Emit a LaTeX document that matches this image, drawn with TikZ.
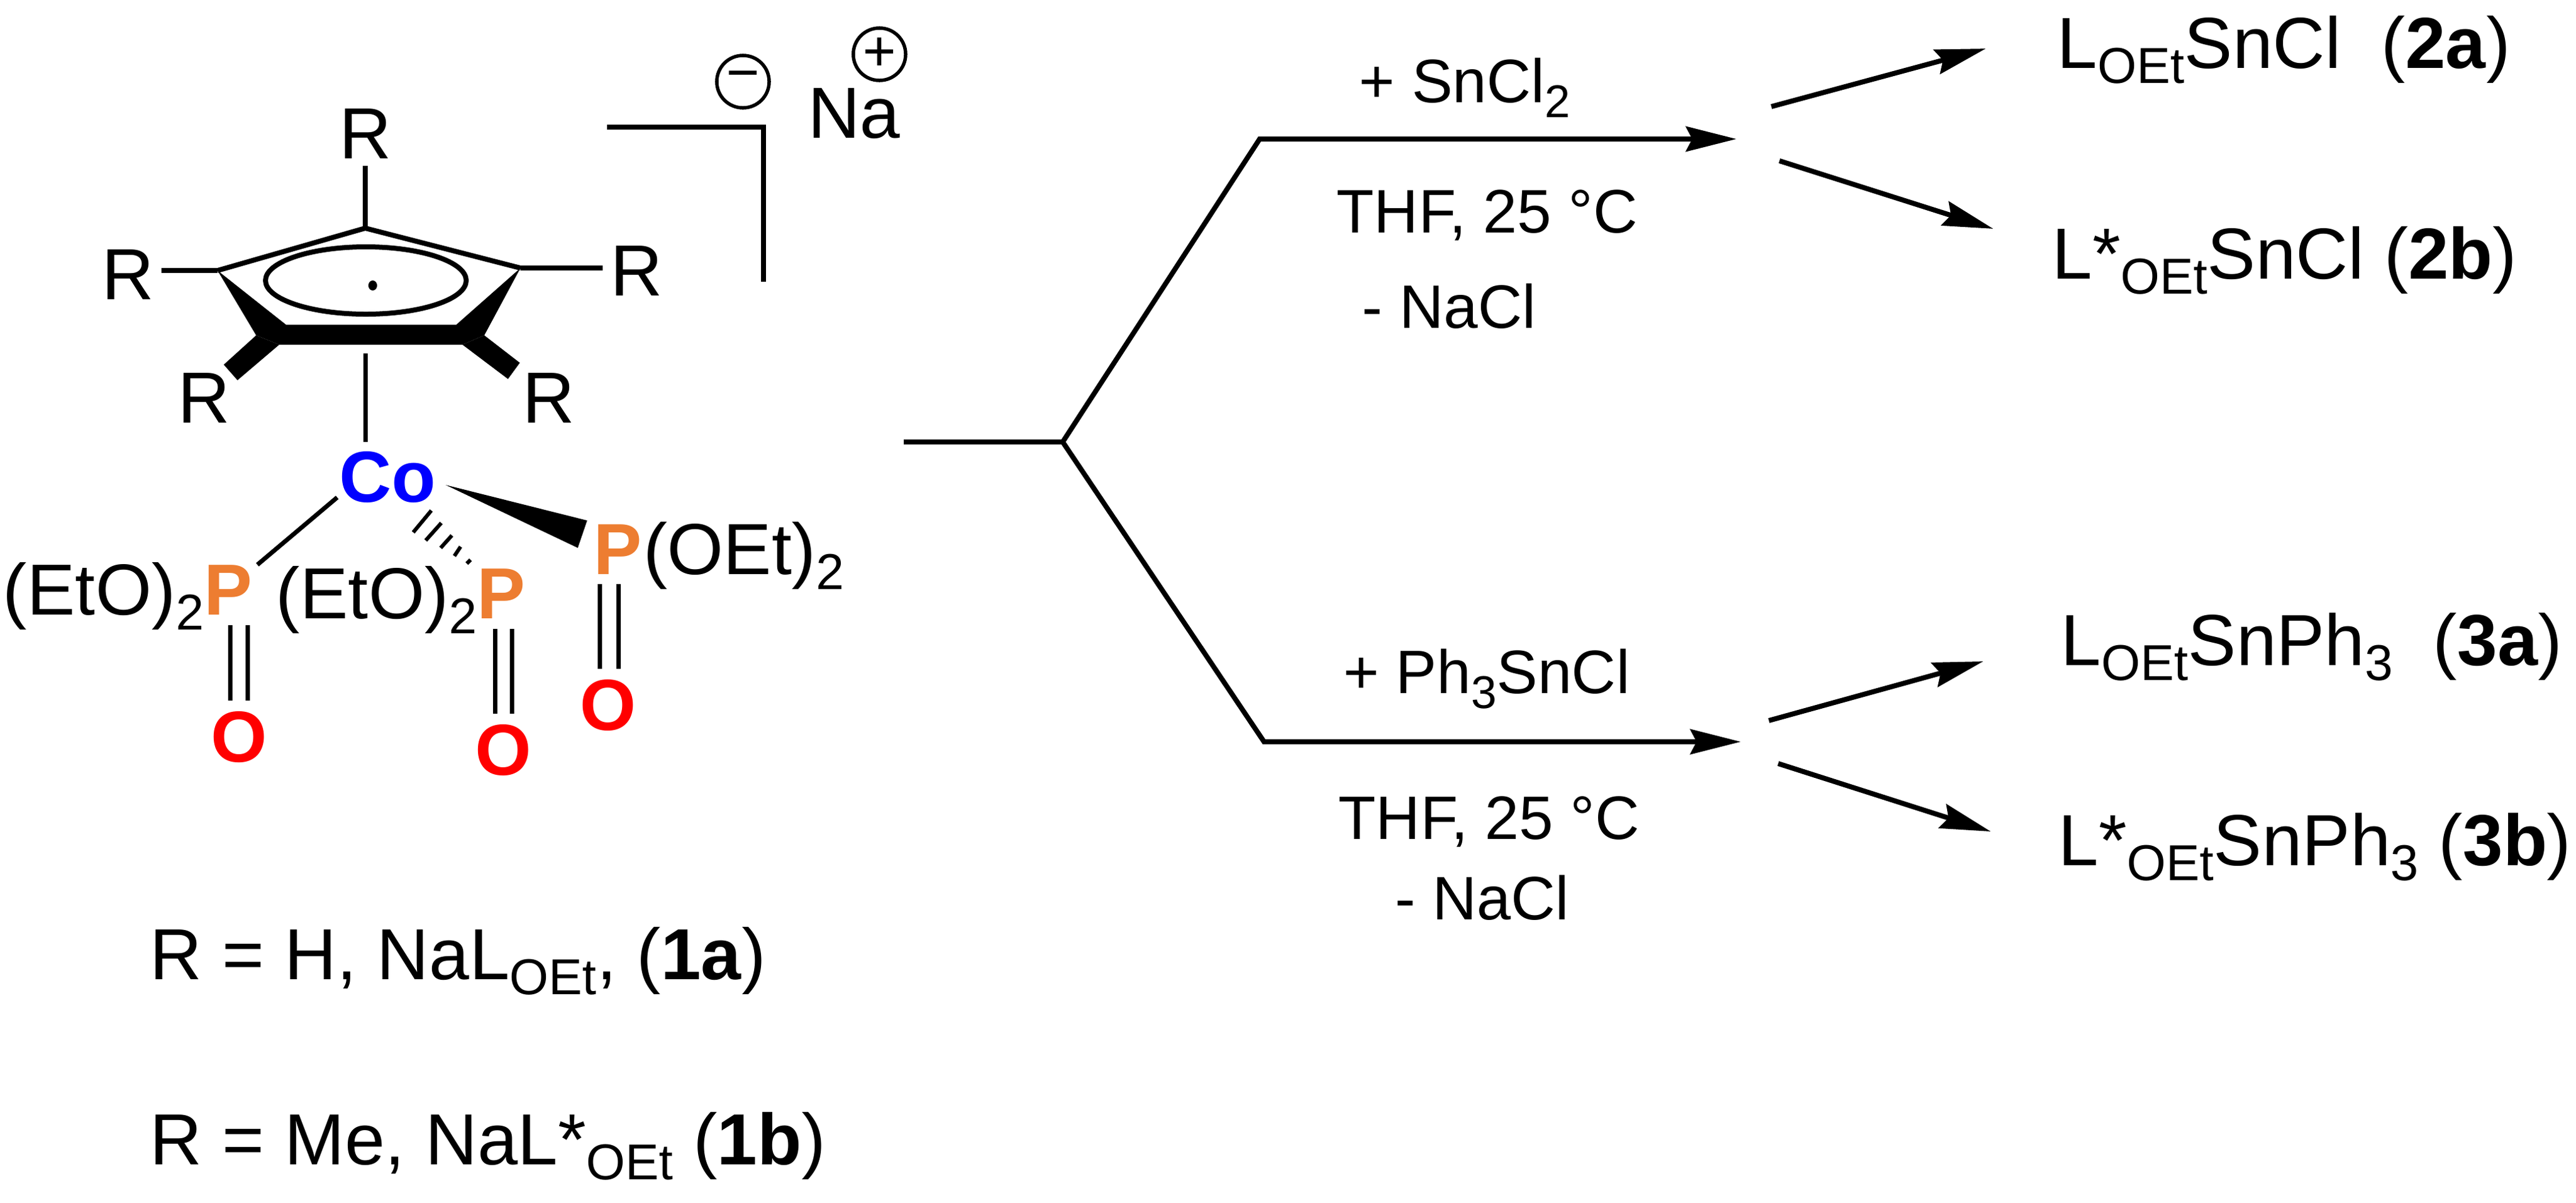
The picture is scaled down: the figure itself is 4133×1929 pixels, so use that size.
\documentclass[tikz,border=0pt]{standalone}
\usepackage{fontspec}
\setmainfont{Liberation Sans}
\usetikzlibrary{arrows.meta}
\definecolor{phos}{HTML}{ED7D31}
\newcommand{\lowr}[2][23]{\raisebox{-7pt}{\fontsize{#1}{#1}\selectfont #2}}
\tikzset{
  bond/.style={line width=0.8mm},
  thinbond/.style={line width=0.7mm},
  rxn/.style={line width=0.8mm,-{Stealth[length=8.1mm,width=4mm,inset=1mm]}},
  atom/.style={anchor=base,outer sep=1.2mm,font=\fontsize{33}{33}\selectfont},
  elem/.style={atom,font=\bfseries\fontsize{33}{33}\selectfont},
  chg/.style={circle,draw,line width=0.55mm,minimum size=8.4mm,font=\fontsize{26}{26}\selectfont},
  cond/.style={anchor=base,font=\fontsize{28}{28}\selectfont},
  prod/.style={anchor=base west,font=\fontsize{33}{33}\selectfont},
  note/.style={anchor=base west,font=\fontsize{33}{33}\selectfont}
}
\begin{document}
\begin{tikzpicture}[x=0.01cm,y=-0.01cm]
    \tikzstyle{every node}+=[inner sep=0pt]
    \useasboundingbox (0,0) rectangle (4133,1929);
    \coordinate (ringt) at (586,366);
    \coordinate (ringl) at (349,434);
    \coordinate (ringr) at (835,430);
    \coordinate (cpfoot) at (586,567);
    \node [atom] (rt) at (586,254) {R};
    \node [atom] (rl) at (205,480) {R};
    \node [atom] (rr) at (1021,474) {R};
    \node [atom] (rbl) at (327,678) {R};
    \node [atom] (rbr) at (880,678) {R};
    \draw [bond] (rt) -- (ringt);
    \draw [bond] (rl.east |- ringl) -- (ringl);
    \draw [bond] (ringr) -- (rr.west |- ringr);
    \draw [bond,line join=miter] (ringl) -- (ringt) -- (ringr);
    \fill [black] (ringl) -- (459,521) -- (732,521) -- (ringr) -- (777,538) -- (742,553) -- (448,553) -- (411,538) -- cycle;
    \fill [black] (448,553) -- (381,610) -- (359,585) -- (411,538) -- cycle;
    \fill [black] (742,553) -- (815,608) -- (834,582) -- (777,538) -- cycle;
    \draw [bond] (587,450) ellipse [x radius=161,y radius=54];
    \fill [black] (598,458) ellipse [x radius=7,y radius=8];
    \coordinate (brl) at (974,204);
    \coordinate (brc) at (1225,204);
    \coordinate (brb) at (1225,452);
    \draw [bond,line join=miter] (brl) -- (brc) -- (brb);
    \node [chg] (cminus) at (1192,131) {−};
    \node [chg] (cplus) at (1411,87) {+};
    \node [atom,anchor=base west,outer sep=0pt] (na) at (1296,221) {Na};
    % metal and phosphonates
    \node [elem,blue,outer sep=1.5mm] (co) at (622,805) {Co};
    \draw [thinbond] (cpfoot) -- (cpfoot |- co.north);
    \node [elem,phos,anchor=base west,outer sep=0pt] (pl) at (327,986) {P};
    \node [atom,anchor=base east,outer sep=0pt] (etl) at (pl.base west) {(EtO)\lowr{2}};
    \node [elem,phos,anchor=base west,outer sep=0pt] (pm) at (765,992) {P};
    \node [atom,anchor=base east,outer sep=0pt] (etm) at (pm.base west) {(EtO)\lowr{2}};
    \node [elem,phos,anchor=base west,outer sep=0pt] (pr) at (952,921) {P};
    \node [atom,anchor=base west,outer sep=0pt] (etr) at (1032,921) {(OEt)\lowr{2}};
    \coordinate (col) at (541,798);
    \coordinate (pbl) at (413,906);
    \draw [thinbond] (col) -- (pbl);
    \coordinate (wtip) at (715,778);
    \fill [black] (wtip) -- (942,835) -- (927,879) -- cycle;
    \foreach \xa/\ya/\xb/\yb in {692/819/663/854,708/839/683/867,725/859/707/879,739/877/729/892,755/898/749/904}
        \draw [line width=0.6mm] (\xa,\ya) -- (\xb,\yb);
    \node [elem,red,outer sep=1.7mm] (ol) at (384,1222) {O};
    \node [elem,red,outer sep=1.7mm] (om) at (808,1243) {O};
    \node [elem,red,outer sep=1.7mm] (or) at (976,1171) {O};
    \coordinate (dbl) at (383.5,1003);
    \coordinate (dbm) at (807.5,1009);
    \coordinate (dbr) at (977,937);
    \foreach \sft in {-1.35mm,1.35mm} {
        \draw [thinbond] ([xshift=\sft]dbl) -- ([xshift=\sft]dbl |- ol.north);
        \draw [thinbond] ([xshift=\sft]dbm) -- ([xshift=\sft]dbm |- om.north);
    }
    \foreach \sft in {-1.5mm,1.5mm}
        \draw [thinbond] ([xshift=\sft]dbr) -- ([xshift=\sft]dbr |- or.north);
    \node [note] (la) at (240,1571) {R = H, NaL\lowr{OEt}, (\textbf{1a})};
    \node [note] (lb) at (240,1868) {R = Me, NaL*\lowr{OEt} (\textbf{1b})};
    % reaction scheme
    \coordinate (stem) at (1450,709);
    \coordinate (fork) at (1705,709);
    \coordinate (upk) at (2021,223);
    \coordinate (upt) at (2786,223);
    \coordinate (lok) at (2028,1190);
    \coordinate (lot) at (2793,1190);
    \draw [bond] (stem) -- (fork);
    \draw [rxn,line join=miter] (fork) -- (upk) -- (upt);
    \draw [rxn,line join=miter] (fork) -- (lok) -- (lot);
    \node [cond] (ca) at (2350,164) {+ SnCl\lowr[21]{2}};
    \node [cond] (cb) at (2386,373) {THF, 25 °C};
    \node [cond] (cc) at (2325,526) {- NaCl};
    \node [cond] (cd) at (2385,1112) {+ Ph\lowr[21]{3}SnCl};
    \node [cond] (ce) at (2389,1346) {THF, 25 °C};
    \node [cond] (cf) at (2378,1475) {- NaCl};
    \node [prod] (ptwa) at (3300,109) {L\lowr{OEt}SnCl\ \ (\textbf{2a})};
    \node [prod] (ptwb) at (3292,447) {L*\lowr{OEt}SnCl (\textbf{2b})};
    \node [prod] (pthra) at (3306,1067) {L\lowr{OEt}SnPh\lowr{3}\ \ (\textbf{3a})};
    \node [prod] (pthrb) at (3302,1388) {L*\lowr{OEt}SnPh\lowr{3} (\textbf{3b})};
    \coordinate (aa) at (2842,171);
    \coordinate (ab) at (3186,78);
    \coordinate (ac) at (2855,258);
    \coordinate (ad) at (3198,367);
    \coordinate (ae) at (2838,1156);
    \coordinate (af) at (3182,1061);
    \coordinate (ag) at (2853,1225);
    \coordinate (ah) at (3194,1334);
    \draw [rxn] (aa) -- (ab);
    \draw [rxn] (ac) -- (ad);
    \draw [rxn] (ae) -- (af);
    \draw [rxn] (ag) -- (ah);
\end{tikzpicture}
\end{document}
